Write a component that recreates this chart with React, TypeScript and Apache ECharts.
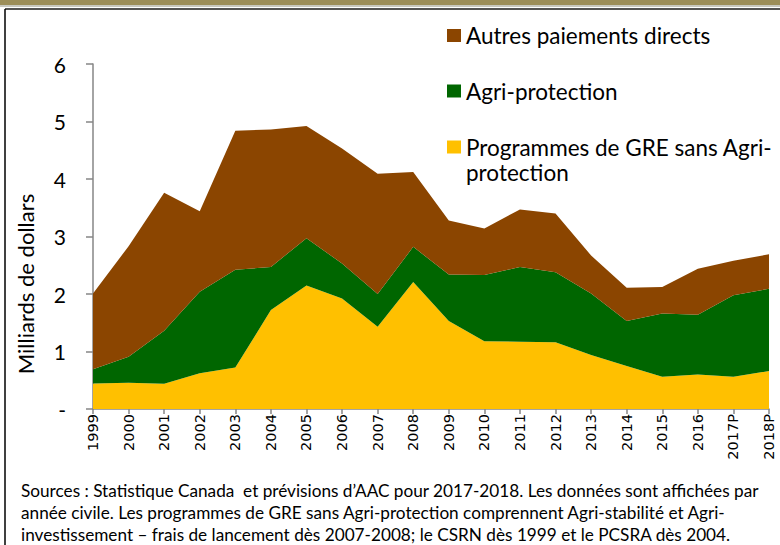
import React, { useEffect, useRef } from 'react';
import * as echarts from 'echarts';

const years = ['1999', '2000', '2001', '2002', '2003', '2004', '2005', '2006', '2007', '2008', '2009', '2010', '2011', '2012', '2013', '2014', '2015', '2016', '2017P', '2018P'];
const greSansAgriProtection = [0.445, 0.457, 0.44, 0.62, 0.72, 1.72, 2.15, 1.92, 1.43, 2.21, 1.53, 1.18, 1.17, 1.16, 0.94, 0.75, 0.56, 0.6, 0.56, 0.66];
const agriProtection = [0.245, 0.453, 0.92, 1.42, 1.7, 0.75, 0.82, 0.61, 0.57, 0.61, 0.81, 1.15, 1.3, 1.22, 1.07, 0.78, 1.1, 1.04, 1.42, 1.43];
const autresPaiements = [1.32, 1.92, 2.4, 1.4, 2.42, 2.39, 1.95, 2.0, 2.09, 1.3, 0.94, 0.81, 1.0, 1.02, 0.66, 0.58, 0.46, 0.8, 0.6, 0.6];

const seriesNames = ['Autres paiements directs', 'Agri-protection', 'Programmes de GRE sans Agri-protection'];
const yAxisTitle = 'Milliards de dollars';
const sourceLines = [
  'Sources : Statistique Canada  et prévisions d’AAC pour 2017-2018. Les données sont affichées par',
  'année civile. Les programmes de GRE sans Agri-protection comprennent Agri-stabilité et Agri-',
  'investissement – frais de lancement dès 2007-2008; le CSRN dès 1999 et le PCSRA dès 2004.',
];

const FONT = 'Lato';
const BROWN = '#8B4500';
const GREEN = '#006600';
const YELLOW = '#FFC000';

export default function App() {
  const ref = useRef<HTMLDivElement>(null);
  useEffect(() => {
    document.body.style.margin = '0';
    const chart = echarts.init(ref.current!, null, { renderer: 'svg' });
    const areaSeries = (name: string, data: number[], color: string) => ({
      name,
      type: 'line',
      stack: 'total',
      data,
      symbol: 'none',
      showSymbol: false,
      lineStyle: { width: 0, color },
      itemStyle: { color },
      areaStyle: { color, opacity: 1 },
    });
    const legendText = { fontFamily: FONT, fontSize: 22.5, color: '#000', lineHeight: 25 };
    chart.setOption({
      animation: false,
      backgroundColor: '#fff',
      grid: { left: 93, right: 11, top: 64, bottom: 136, containLabel: false },
      legend: [
        {
          data: [seriesNames[0]], left: 447, top: 23, padding: 0, itemWidth: 14, itemHeight: 13, itemGap: 0,
          icon: 'rect', textStyle: legendText, selectedMode: false,
        },
        {
          data: [seriesNames[1]], left: 447, top: 78.5, padding: 0, itemWidth: 14, itemHeight: 13, itemGap: 0,
          icon: 'rect', textStyle: legendText, selectedMode: false,
        },
        {
          data: [seriesNames[2]], left: 447, top: 109.5, padding: 0, itemWidth: 14, itemHeight: 13, itemGap: 0,
          icon: 'rect', selectedMode: false,
          formatter: () => ' \nProgrammes de GRE sans Agri-\nprotection',
          textStyle: legendText,
        },
      ],
      xAxis: {
        type: 'category',
        data: years,
        boundaryGap: false,
        axisLine: { lineStyle: { color: '#868686', width: 1.5 } },
        axisTick: { show: true, length: 5, lineStyle: { color: '#868686', width: 1.5 } },
        axisLabel: { rotate: 90, fontFamily: 'DejaVu Sans', fontSize: 14.5, color: '#000', margin: 5, interval: 0 },
        splitLine: { show: false },
      },
      yAxis: {
        type: 'value',
        min: 0,
        max: 6,
        interval: 1,
        axisLine: { show: true, lineStyle: { color: '#868686', width: 1.5 } },
        axisTick: { show: true, length: 7, lineStyle: { color: '#868686', width: 1.5 } },
        axisLabel: {
          fontFamily: FONT, fontSize: 21, color: '#000', margin: 27,
          formatter: (v: number) => (v === 0 ? '-' : String(v)),
        },
        splitLine: { show: false },
      },
      series: [
        areaSeries(seriesNames[2], greSansAgriProtection, YELLOW),
        areaSeries(seriesNames[1], agriProtection, GREEN),
        areaSeries(seriesNames[0], autresPaiements, BROWN),
      ],
      graphic: [
        { type: 'rect', left: 0, top: 0, shape: { width: 780, height: 5 }, style: { fill: '#9C8E5A' }, silent: true },
        { type: 'rect', left: 0, top: 5, shape: { width: 780, height: 2 }, style: { fill: '#C8C8C0' }, silent: true },
        { type: 'line', shape: { x1: 5, y1: 9, x2: 780, y2: 9 }, style: { stroke: '#555', lineWidth: 2 }, silent: true },
        { type: 'line', shape: { x1: 5, y1: 9, x2: 5, y2: 545 }, style: { stroke: '#000', lineWidth: 1.5 }, silent: true },
        {
          type: 'text', x: 25, y: 284, rotation: Math.PI / 2,
          style: { text: yAxisTitle, fontFamily: FONT, fontSize: 22, fill: '#000', align: 'center', verticalAlign: 'middle' },
          silent: true,
        },
        {
          type: 'text', x: 21, y: 480,
          style: { text: sourceLines.join('\n'), fontFamily: FONT, fontSize: 17.2, lineHeight: 21.8, fill: '#000', align: 'left', verticalAlign: 'top' },
          silent: true,
        },
      ],
    });
    return () => chart.dispose();
  }, []);
  return <div ref={ref} style={{ width: 780, height: 545 }} />;
}
